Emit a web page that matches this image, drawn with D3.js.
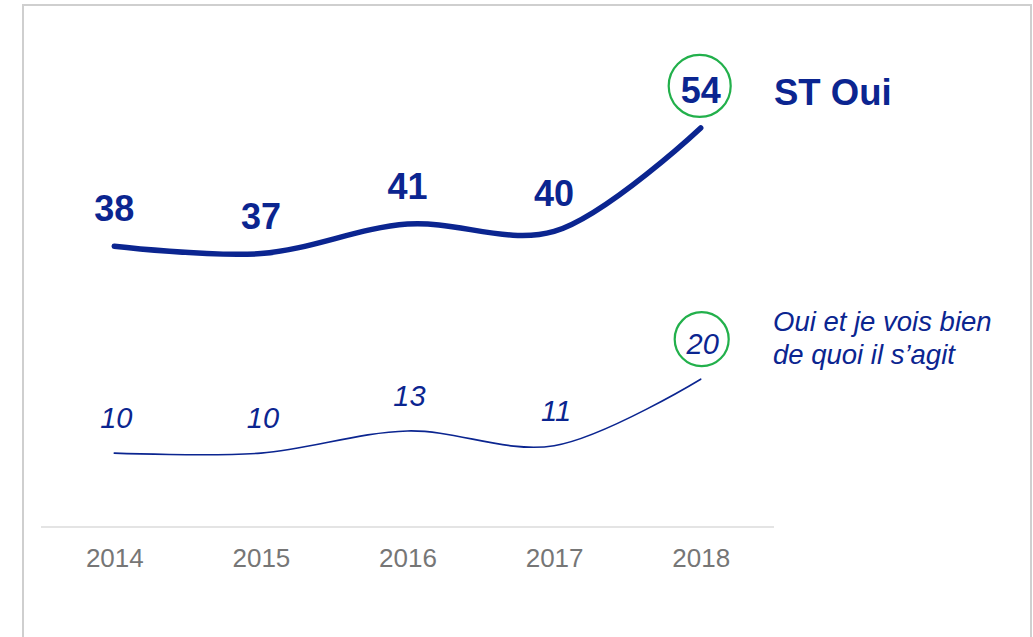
<!DOCTYPE html>
<html>
<head>
<meta charset="utf-8">
<script src="https://cdn.jsdelivr.net/npm/d3@7/dist/d3.min.js"></script>
<style>
  html, body { margin: 0; padding: 0; background: #fff; }
  svg { display: block; font-family: "Liberation Sans", Arial, sans-serif; }
</style>
</head>
<body>
<svg id="chart" width="1033" height="637"></svg>
<script>
// Years on the x axis
const years = ["2014", "2015", "2016", "2017", "2018"];
// "ST Oui" total
const stOui = [38, 37, 41, 40, 54];
// "Oui et je vois bien de quoi il s'agit"
const ouiBien = [10, 10, 13, 11, 20];
const seriesNames = ["ST Oui", ["Oui et je vois bien", "de quoi il s\u2019agit"]];

const navy = "#0b2590";
const green = "#22b04b";

const svg = d3.select("#chart");

// outer frame
svg.append("rect")
  .attr("x", 23).attr("y", 5)
  .attr("width", 1008).attr("height", 660)
  .attr("fill", "none")
  .attr("stroke", "#cfcfcf")
  .attr("stroke-width", 2);

const x = d3.scalePoint().domain(years).range([41, 774]).padding(0.5);
const y = d3.scaleLinear().domain([0, 60]).range([527, 527 - 60 * 7.39]);

// baseline
svg.append("line")
  .attr("x1", 41).attr("x2", 774)
  .attr("y1", y(0)).attr("y2", y(0))
  .attr("stroke", "#e4e4e4")
  .attr("stroke-width", 2);

// x axis labels
const xAxis = d3.axisBottom(x).tickSize(0).tickPadding(0);
const gx = svg.append("g")
  .attr("transform", `translate(0,${y(0) + 22})`)
  .call(xAxis);
gx.select(".domain").remove();
gx.selectAll("text")
  .attr("dy", "0.71em")
  .attr("fill", "#767676")
  .attr("font-size", 26)
  .attr("font-family", "'Liberation Sans', Arial, sans-serif");

const line = d3.line()
  .x((d, i) => x(years[i]))
  .y(d => y(d))
  .curve(d3.curveCatmullRom.alpha(0.5));

// ST Oui line
svg.append("path")
  .datum(stOui)
  .attr("d", line)
  .attr("fill", "none")
  .attr("stroke", navy)
  .attr("stroke-width", 5.5)
  .attr("stroke-linecap", "round");

// detailed line
svg.append("path")
  .datum(ouiBien)
  .attr("d", line)
  .attr("fill", "none")
  .attr("stroke", navy)
  .attr("stroke-width", 1.6)
  .attr("stroke-linecap", "round");

const last = years.length - 1;

// highlight circles on the latest values
svg.append("circle")
  .attr("cx", x(years[last]) - 1)
  .attr("cy", y(stOui[last]) - 42)
  .attr("r", 31)
  .attr("fill", "none")
  .attr("stroke", green)
  .attr("stroke-width", 2.2);

svg.append("circle")
  .attr("cx", x(years[last]) + 1)
  .attr("cy", y(ouiBien[last]) - 40)
  .attr("r", 27)
  .attr("fill", "none")
  .attr("stroke", green)
  .attr("stroke-width", 2.2);

// value labels
svg.append("g").selectAll("text")
  .data(stOui)
  .join("text")
  .attr("x", (d, i) => x(years[i]))
  .attr("y", d => y(d) - 25)
  .attr("text-anchor", "middle")
  .attr("fill", navy)
  .attr("font-size", 36)
  .attr("font-weight", "bold")
  .text(d => d);

svg.append("g").selectAll("text")
  .data(ouiBien)
  .join("text")
  .attr("x", (d, i) => x(years[i]) + 2)
  .attr("y", d => y(d) - 25)
  .attr("text-anchor", "middle")
  .attr("fill", navy)
  .attr("font-size", 29)
  .attr("font-style", "italic")
  .text(d => d);

// series names
svg.append("text")
  .attr("x", 774)
  .attr("y", 105)
  .attr("fill", navy)
  .attr("font-size", 36.5)
  .attr("font-weight", "bold")
  .text(seriesNames[0]);

const t2 = svg.append("text")
  .attr("x", 773)
  .attr("y", 331)
  .attr("fill", navy)
  .attr("font-size", 27.5)
  .attr("font-style", "italic");
t2.selectAll("tspan")
  .data(seriesNames[1])
  .join("tspan")
  .attr("x", 773)
  .attr("dy", (d, i) => i === 0 ? 0 : 33)
  .text(d => d);
</script>
</body>
</html>
